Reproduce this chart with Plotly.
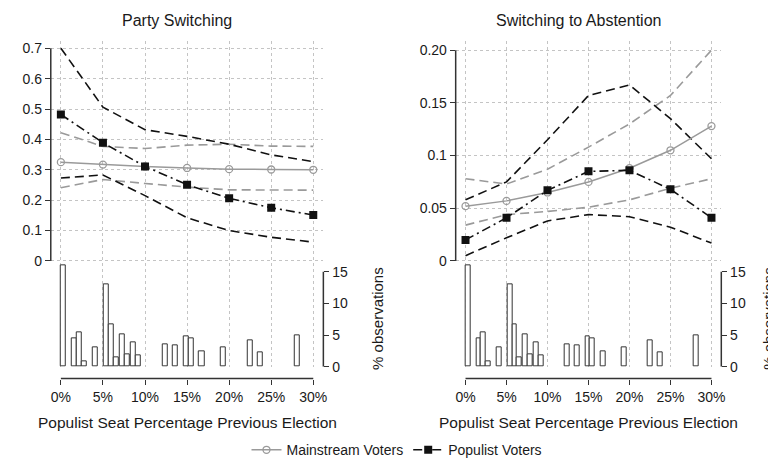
import plotly.graph_objects as go

# Predicted probabilities by populist seat share in previous election
seats = [0, 5, 10, 15, 20, 25, 30]
seat_labels = ["0%", "5%", "10%", "15%", "20%", "25%", "30%"]

# Party switching
party_main = [0.325, 0.317, 0.311, 0.306, 0.302, 0.301, 0.300]
party_main_hi = [0.422, 0.377, 0.370, 0.381, 0.384, 0.378, 0.377]
party_main_lo = [0.241, 0.268, 0.255, 0.243, 0.234, 0.233, 0.233]
party_pop = [0.482, 0.389, 0.311, 0.251, 0.206, 0.175, 0.151]
party_pop_hi = [0.700, 0.506, 0.432, 0.410, 0.384, 0.349, 0.327]
party_pop_lo = [0.273, 0.283, 0.215, 0.142, 0.100, 0.078, 0.062]

# Switching to abstention
abst_main = [0.052, 0.057, 0.065, 0.075, 0.088, 0.105, 0.128]
abst_main_hi = [0.078, 0.073, 0.087, 0.108, 0.130, 0.157, 0.200]
abst_main_lo = [0.034, 0.044, 0.047, 0.051, 0.058, 0.069, 0.078]
abst_pop = [0.020, 0.041, 0.067, 0.085, 0.086, 0.068, 0.041]
abst_pop_hi = [0.058, 0.075, 0.115, 0.157, 0.167, 0.135, 0.097]
abst_pop_lo = [0.005, 0.022, 0.038, 0.044, 0.042, 0.032, 0.017]

# Distribution of observations (% of observations by seat share)
hist_x = [0.3, 1.6, 2.2, 2.8, 4.1, 5.4, 6.0, 6.6, 7.25, 7.85, 8.6, 9.2,
          12.4, 13.6, 14.9, 15.5, 16.75, 19.3, 22.5, 23.7, 28.1]
hist_pct = [16.0, 4.5, 5.4, 0.8, 3.0, 13.0, 6.7, 1.55, 5.1, 1.9, 3.8, 1.75,
            3.6, 3.4, 4.75, 4.55, 2.4, 3.05, 4.25, 2.3, 4.9]

W, H = 776, 459
FONT = "Liberation Sans, Arial, sans-serif"
TXT = "#1a1a1a"
GREY = "#9a9a9a"
BLACK = "#111111"
AXC = "#333333"


def px(v):
    return v / W


def py(v):
    return 1 - v / H


fig = go.Figure()
shapes = []
annotations = []


def label(text, x, y, size=14, angle=0):
    annotations.append(dict(text=text, x=px(x), y=py(y), xref="paper", yref="paper",
                            xanchor="center", yanchor="middle", textangle=angle,
                            showarrow=False, font=dict(size=size, color=TXT)))


def panel(n, x0, x1, y_top_px, y_zero_px, ytop_val, yticks, yticktext,
          main, main_hi, main_lo, pop, pop_hi, pop_lo, title, title_x, obs_x, legend):
    xa = "x" if n == 1 else "x%d" % (2 * n - 1)
    ya = "y" if n == 1 else "y%d" % (2 * n - 1)
    ya2 = "y%d" % (2 * n)
    # region of the whole panel (lines + histogram)
    dom_top, dom_bot, axis_px = 33, 365, 377
    scale = (y_zero_px - y_top_px) / ytop_val
    yr = [-(dom_bot - y_zero_px) / scale, ytop_val + (y_top_px - dom_top) / scale]
    hscale = (dom_bot - 268) / 15.0
    hr = [0, (dom_bot - dom_top) / hscale]

    dash_ci = "9px,5px"
    for ys, col in [(main_hi, GREY), (main_lo, GREY), (pop_hi, BLACK), (pop_lo, BLACK)]:
        fig.add_trace(go.Scatter(x=seats, y=ys, mode="lines", xaxis=xa, yaxis=ya,
                                 line=dict(color=col, width=1.6, dash=dash_ci),
                                 showlegend=False, hoverinfo="skip"))
    fig.add_trace(go.Scatter(x=seats, y=main, mode="lines+markers", xaxis=xa, yaxis=ya,
                             name="Mainstream Voters", showlegend=legend,
                             line=dict(color=GREY, width=1.5),
                             marker=dict(symbol="circle-open", size=7,
                                         color=GREY, line=dict(width=1.3))))
    fig.add_trace(go.Scatter(x=seats, y=pop, mode="lines+markers", xaxis=xa, yaxis=ya,
                             name="Populist Voters", showlegend=legend,
                             line=dict(color=BLACK, width=1.6, dash="9px,4px,2px,4px"),
                             marker=dict(symbol="square", size=8, color=BLACK)))
    fig.add_trace(go.Bar(x=hist_x, y=hist_pct, width=0.6, xaxis=xa, yaxis=ya2,
                         marker=dict(color="white", line=dict(color=AXC, width=1)),
                         showlegend=False))

    xname = "xaxis" if n == 1 else "xaxis%d" % (2 * n - 1)
    yname = "yaxis" if n == 1 else "yaxis%d" % (2 * n - 1)
    y2name = "yaxis%d" % (2 * n)
    fig.layout[xname] = dict(domain=[px(x0), px(x1)], range=[-1.2, 31.2],
                             anchor="free", position=py(axis_px),
                             tickvals=seats, ticktext=seat_labels, ticks="outside",
                             ticklen=5, tickcolor=AXC, showline=False, zeroline=False,
                             showgrid=True, gridcolor="#c4c4c4", griddash="dot",
                             gridwidth=1, ticklabelstandoff=1,
                             tickfont=dict(size=14, color=TXT))
    fig.layout[yname] = dict(domain=[py(dom_bot), py(dom_top)], range=yr, anchor=xa,
                             tickvals=yticks, ticktext=yticktext, ticks="outside",
                             ticklen=5, tickcolor=AXC, showline=False, zeroline=False,
                             showgrid=True, gridcolor="#c4c4c4", griddash="dot",
                             gridwidth=1, tickfont=dict(size=14, color=TXT))
    fig.layout[y2name] = dict(overlaying=ya, side="right", anchor=xa, range=hr,
                              tickvals=[0, 5, 10, 15], ticks="outside", ticklen=5,
                              tickcolor=AXC, showline=False, zeroline=False,
                              showgrid=False, tickfont=dict(size=14, color=TXT))
    # axis lines spanning only the tick range, as in the original
    shapes.append(dict(type="line", xref=xa + " domain", yref=ya, x0=0, x1=0,
                       y0=0, y1=ytop_val, line=dict(color=AXC, width=1.5)))
    shapes.append(dict(type="line", xref=xa + " domain", yref=ya2, x0=1, x1=1,
                       y0=0, y1=15, line=dict(color=AXC, width=1.5)))
    shapes.append(dict(type="line", xref=xa, yref="paper", x0=0, x1=30,
                       y0=py(axis_px), y1=py(axis_px), line=dict(color=AXC, width=1.5)))
    label(title, title_x, 12, size=16)
    label("Populist Seat Percentage Previous Election", (x0 + x1) / 2, 422, size=15.5)
    label("% observations", obs_x, 316, size=15, angle=-90)


panel(1, 43, 317, 40, 257, 0.7,
      [0, 0.1, 0.2, 0.3, 0.4, 0.5, 0.6, 0.7],
      ["0", "0.1", "0.2", "0.3", "0.4", "0.5", "0.6", "0.7"],
      party_main, party_main_hi, party_main_lo, party_pop, party_pop_hi, party_pop_lo,
      "Party Switching", 170, 372, True)
panel(2, 450, 717, 42, 257, 0.2,
      [0, 0.05, 0.1, 0.15, 0.2],
      ["0", "0.05", "0.1", "0.15", "0.20"],
      abst_main, abst_main_hi, abst_main_lo, abst_pop, abst_pop_hi, abst_pop_lo,
      "Switching to Abstention", 573, 765, False)

fig.update_layout(
    width=W, height=H,
    margin=dict(l=0, r=0, t=0, b=0),
    paper_bgcolor="white", plot_bgcolor="white",
    font=dict(family=FONT, size=14, color=TXT),
    shapes=shapes, annotations=annotations,
    bargap=0,
    legend=dict(orientation="h", x=px(391), xanchor="center", y=py(450),
                yanchor="middle", font=dict(size=14, color=TXT),
                bgcolor="rgba(0,0,0,0)"),
)

fig.write_html("out.html")
